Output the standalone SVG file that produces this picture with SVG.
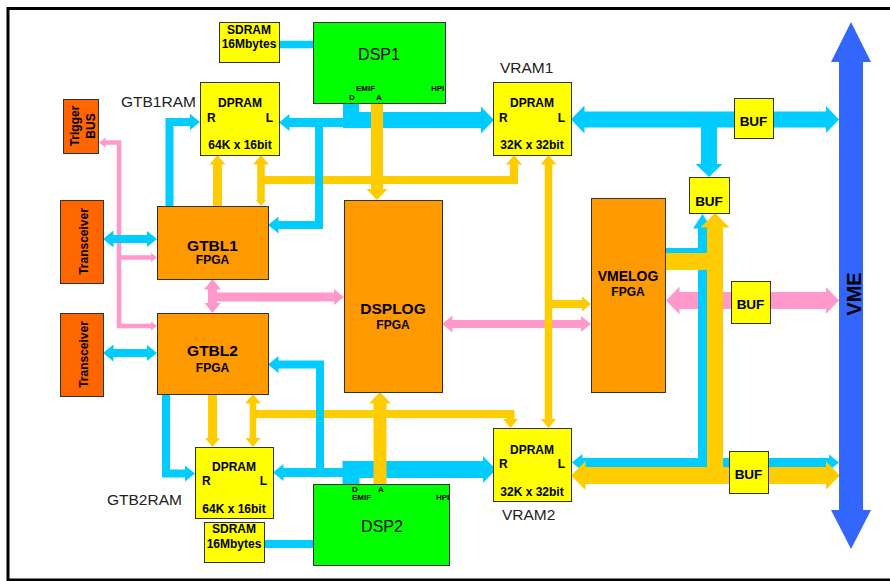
<svg xmlns="http://www.w3.org/2000/svg" width="890" height="581" viewBox="0 0 890 581">
<style>
.box{stroke:#333;stroke-width:1}
.yel{fill:#ffff00}.org{fill:#ff9900}.red{fill:#ff6600}.grn{fill:#00ff00}
.t{font-family:"Liberation Sans",Arial,sans-serif;fill:#000}
.b12{font-weight:bold;font-size:12px}
.b8{font-weight:bold;font-size:8px}
.b13{font-weight:bold;font-size:13.5px}
.n16{font-size:16px}
.b15{font-weight:bold;font-size:15.5px}
.lbl{font-size:15.5px;fill:#222}
.mid{text-anchor:middle}
.end{text-anchor:end}
.c{stroke:#00ccff;fill:none;stroke-linejoin:miter}
.y{stroke:#ffcc00;fill:none;stroke-linejoin:miter}
.p{stroke:#ff99cc;fill:none;stroke-linejoin:miter}
</style>
<defs>
<marker id="cS" markerUnits="userSpaceOnUse" viewBox="-0.5 -8.5 10.5 17" refX="0" refY="0" markerWidth="10.5" markerHeight="17" orient="auto-start-reverse"><path d="M-0.5,-8.5 L10,0 L-0.5,8.5Z" fill="#00ccff"/></marker>
<marker id="cM" markerUnits="userSpaceOnUse" viewBox="-0.5 -9.5 14.5 19" refX="0" refY="0" markerWidth="14.5" markerHeight="19" orient="auto-start-reverse"><path d="M-0.5,-9.5 L14,0 L-0.5,9.5Z" fill="#00ccff"/></marker>
<marker id="cL" markerUnits="userSpaceOnUse" viewBox="-0.5 -14 13.5 28" refX="0" refY="0" markerWidth="13.5" markerHeight="28" orient="auto-start-reverse"><path d="M-0.5,-14 L13,0 L-0.5,14Z" fill="#00ccff"/></marker>
<marker id="yT" markerUnits="userSpaceOnUse" viewBox="-0.5 -5.5 6.5 11" refX="0" refY="0" markerWidth="6.5" markerHeight="11" orient="auto-start-reverse"><path d="M-0.5,-5.5 L6,0 L-0.5,5.5Z" fill="#ffcc00"/></marker>
<marker id="yS" markerUnits="userSpaceOnUse" viewBox="-0.5 -8 9.5 16" refX="0" refY="0" markerWidth="9.5" markerHeight="16" orient="auto-start-reverse"><path d="M-0.5,-8 L9,0 L-0.5,8Z" fill="#ffcc00"/></marker>
<marker id="yM" markerUnits="userSpaceOnUse" viewBox="-0.5 -11 11.5 22" refX="0" refY="0" markerWidth="11.5" markerHeight="22" orient="auto-start-reverse"><path d="M-0.5,-11 L11,0 L-0.5,11Z" fill="#ffcc00"/></marker>
<marker id="yL" markerUnits="userSpaceOnUse" viewBox="-0.5 -14.5 14.5 29" refX="0" refY="0" markerWidth="14.5" markerHeight="29" orient="auto-start-reverse"><path d="M-0.5,-14.5 L14,0 L-0.5,14.5Z" fill="#ffcc00"/></marker>
<marker id="pT" markerUnits="userSpaceOnUse" viewBox="-0.5 -5 6.5 10" refX="0" refY="0" markerWidth="6.5" markerHeight="10" orient="auto-start-reverse"><path d="M-0.5,-5 L6,0 L-0.5,5Z" fill="#ff99cc"/></marker>
<marker id="pS" markerUnits="userSpaceOnUse" viewBox="-0.5 -8.5 10.5 17" refX="0" refY="0" markerWidth="10.5" markerHeight="17" orient="auto-start-reverse"><path d="M-0.5,-8.5 L10,0 L-0.5,8.5Z" fill="#ff99cc"/></marker>
<marker id="pL" markerUnits="userSpaceOnUse" viewBox="-0.5 -14 13.5 28" refX="0" refY="0" markerWidth="13.5" markerHeight="28" orient="auto-start-reverse"><path d="M-0.5,-14 L13,0 L-0.5,14Z" fill="#ff99cc"/></marker>
</defs>
<rect x="0" y="0" width="890" height="581" fill="#fff"/>
<rect x="8" y="8.5" width="886" height="571.5" fill="none" stroke="#000" stroke-width="3"/>

<g id="connectors">
  <!-- pink -->
  <path class="p" stroke-width="4.5" d="M105,142.5 H119 V326 H151" marker-start="url(#pT)" marker-end="url(#pT)"/>
  <path class="p" stroke-width="4.5" d="M119,257.5 H151" marker-end="url(#pT)"/>
  <path class="p" stroke-width="9" d="M212.5,289 V303" marker-start="url(#pS)" marker-end="url(#pS)"/>
  <path class="p" stroke-width="9" d="M212.5,297 H334" marker-end="url(#pS)"/>
  <path class="p" stroke-width="8" d="M452,324 H581" marker-start="url(#pS)" marker-end="url(#pS)"/>
  <path class="p" stroke-width="17" d="M679,300.5 H826" marker-start="url(#pL)" marker-end="url(#pL)"/>
  <!-- yellow under cyan -->
  <path class="y" stroke-width="8" d="M261,180 H514 V164" marker-end="url(#yS)"/>
  <path class="y" stroke-width="8" d="M253,414 H510.5 V419" marker-end="url(#yS)"/>
  <!-- cyan -->
  <path class="c" stroke-width="7.5" d="M279,44.5 H313"/>
  <path class="c" stroke-width="16" d="M351,103 V120 H481" marker-end="url(#cL)"/>
  <path class="c" stroke-width="9" d="M289,122.5 H351" marker-start="url(#cS)"/>
  <path class="c" stroke-width="8" d="M319,122.5 V225 H278" marker-end="url(#cS)"/>
  <path class="c" stroke-width="8" d="M169.5,206 V122 H190" marker-end="url(#cS)"/>
  <path class="c" stroke-width="8" d="M113,239 H147" marker-start="url(#cS)" marker-end="url(#cS)"/>
  <path class="c" stroke-width="8" d="M113,353 H147" marker-start="url(#cS)" marker-end="url(#cS)"/>
  <path class="c" stroke-width="8" d="M166,394 V473.5 H185" marker-end="url(#cS)"/>
  <path class="c" stroke-width="17" d="M351,484 V469.5 H483" marker-end="url(#cL)"/>
  <path class="c" stroke-width="9" d="M283,472.5 H351" marker-start="url(#cS)"/>
  <path class="c" stroke-width="8" d="M320,472.5 V364.5 H278" marker-end="url(#cS)"/>
  <path class="c" stroke-width="8" d="M264,544 H313"/>
  <path class="c" stroke-width="16" d="M584,119.5 H826" marker-start="url(#cL)" marker-end="url(#cL)"/>
  <path class="c" stroke-width="16" d="M709,119.5 V164" marker-end="url(#cL)"/>
  <path class="c" stroke-width="9" d="M582,462.5 H829" marker-start="url(#cS)" marker-end="url(#cS)"/>
  <path class="c" stroke-width="9" d="M702.5,467 V228" marker-end="url(#cM)"/>
  <path class="c" stroke-width="9" d="M665,252.5 H707"/>
  <!-- yellow over -->
  <path class="y" stroke-width="12" d="M377,103 V189" marker-end="url(#yM)"/>
  <path class="y" stroke-width="9" d="M217.5,206 V164" marker-end="url(#yS)"/>
  <path class="y" stroke-width="7.5" d="M261,200 V164" marker-start="url(#yT)" marker-end="url(#yS)"/>
  <path class="y" stroke-width="7.5" d="M548.5,164 V419" marker-start="url(#yS)" marker-end="url(#yS)"/>
  <path class="y" stroke-width="8" d="M548.5,304 H582" marker-end="url(#yS)"/>
  <path class="y" stroke-width="9" d="M212.5,394 V438" marker-end="url(#yS)"/>
  <path class="y" stroke-width="6.5" d="M253,403 V438" marker-start="url(#yS)" marker-end="url(#yS)"/>
  <path class="y" stroke-width="13" d="M380,484 V403" marker-end="url(#yM)"/>
  <path class="y" stroke-width="17" d="M665,261.5 H723"/>
  <path class="y" stroke-width="16" d="M715,484 V227" marker-end="url(#yL)"/>
  <path class="y" stroke-width="17" d="M585,475.5 H826" marker-start="url(#yL)" marker-end="url(#yL)"/>
</g>

<g id="vme">
  <polygon points="851,22 871,62 863,62 863,510 871,510 851,549 831,510 839,510 839,62 831,62" fill="#3366ff"/>
  <text class="t mid" font-weight="bold" font-size="20" transform="translate(861,294) rotate(-90)">VME</text>
</g>

<g id="sdram1">
  <rect class="box yel" x="219.5" y="22.5" width="60" height="40"/>
  <text class="t b12 mid" x="249" y="34">SDRAM</text>
  <text class="t b12 mid" x="249" y="48">16Mbytes</text>
</g>
<g id="dsp1">
  <rect class="box grn" x="313.5" y="22.5" width="132" height="81"/>
  <text class="t n16 mid" x="379" y="60">DSP1</text>
  <text class="t b8" x="356" y="91">EMIF</text>
  <text class="t b8" x="349" y="100">D</text>
  <text class="t b8" x="376" y="100">A</text>
  <text class="t b8" x="431" y="91">HPI</text>
</g>
<g id="gtb1ram">
  <rect class="box yel" x="200.5" y="82.5" width="79" height="73"/>
  <text class="t b12 mid" x="240" y="107">DPRAM</text>
  <text class="t b12" x="207" y="122">R</text>
  <text class="t b12 end" x="273" y="122">L</text>
  <text class="t b12 mid" x="240" y="149">64K x 16bit</text>
  <text class="t lbl" x="121" y="107">GTB1RAM</text>
</g>
<g id="vram1">
  <rect class="box yel" x="493.5" y="82.5" width="78" height="73"/>
  <text class="t b12 mid" x="532" y="107">DPRAM</text>
  <text class="t b12" x="499" y="122">R</text>
  <text class="t b12 end" x="565" y="122">L</text>
  <text class="t b12 mid" x="532" y="149">32K x 32bit</text>
  <text class="t lbl" x="500" y="73">VRAM1</text>
</g>
<g id="trigger">
  <rect class="box red" x="63.5" y="99.5" width="35" height="54"/>
  <text class="t b12 mid" transform="translate(79,126) rotate(-90)">Trigger</text>
  <text class="t b12 mid" transform="translate(95,126) rotate(-90)">BUS</text>
</g>
<g id="transceiver1">
  <rect class="box red" x="60.5" y="200.5" width="43" height="83"/>
  <text class="t b12 mid" transform="translate(88,241.5) rotate(-90)">Transceiver</text>
</g>
<g id="transceiver2">
  <rect class="box red" x="60.5" y="313.5" width="43" height="83"/>
  <text class="t b12 mid" transform="translate(88,354.5) rotate(-90)">Transceiver</text>
</g>
<g id="gtbl1">
  <rect class="box org" x="157.5" y="206.5" width="111" height="73"/>
  <text class="t b15 mid" x="212.5" y="251">GTBL1</text>
  <text class="t b12 mid" x="212.5" y="264">FPGA</text>
</g>
<g id="gtbl2">
  <rect class="box org" x="157.5" y="313.5" width="111" height="81"/>
  <text class="t b15 mid" x="212.5" y="356">GTBL2</text>
  <text class="t b12 mid" x="212.5" y="372">FPGA</text>
</g>
<g id="dsplog">
  <rect class="box org" x="344.5" y="200.5" width="98" height="192"/>
  <text class="t b15 mid" x="393" y="314">DSPLOG</text>
  <text class="t b12 mid" x="393" y="329">FPGA</text>
</g>
<g id="vmelog">
  <rect class="box org" x="591.5" y="198.5" width="74" height="194"/>
  <text class="t mid" font-weight="bold" font-size="14" x="628" y="281">VMELOG</text>
  <text class="t b12 mid" x="628" y="296">FPGA</text>
</g>
<g id="buf1">
  <rect class="box yel" x="734.5" y="98.5" width="39" height="40"/>
  <text class="t b13 mid" x="753.5" y="126">BUF</text>
</g>
<g id="buf2">
  <rect class="box yel" x="689.5" y="177.5" width="40" height="36"/>
  <text class="t b13 mid" x="709" y="206">BUF</text>
</g>
<g id="buf3">
  <rect class="box yel" x="731.5" y="281.5" width="39" height="42"/>
  <text class="t b13 mid" x="750.5" y="309">BUF</text>
</g>
<g id="buf4">
  <rect class="box yel" x="729.5" y="451.5" width="39" height="42"/>
  <text class="t b13 mid" x="748.5" y="479">BUF</text>
</g>
<g id="vram2">
  <rect class="box yel" x="493.5" y="428.5" width="78" height="73"/>
  <text class="t b12 mid" x="532" y="454">DPRAM</text>
  <text class="t b12" x="499" y="468">R</text>
  <text class="t b12 end" x="565" y="468">L</text>
  <text class="t b12 mid" x="532" y="496">32K x 32bit</text>
  <text class="t lbl" x="502" y="520">VRAM2</text>
</g>
<g id="dsp2">
  <rect class="box grn" x="313.5" y="484.5" width="136" height="81"/>
  <text class="t n16 mid" x="382" y="532">DSP2</text>
  <text class="t b8" x="352" y="492">D</text>
  <text class="t b8" x="378" y="492">A</text>
  <text class="t b8" x="352" y="500">EMIF</text>
  <text class="t b8" x="436" y="500">HPI</text>
</g>
<g id="gtb2ram">
  <rect class="box yel" x="195.5" y="447.5" width="78" height="71"/>
  <text class="t b12 mid" x="234" y="471">DPRAM</text>
  <text class="t b12" x="202" y="485">R</text>
  <text class="t b12 end" x="267" y="485">L</text>
  <text class="t b12 mid" x="234" y="513">64K x 16bit</text>
  <text class="t lbl" x="107" y="505">GTB2RAM</text>
</g>
<g id="sdram2">
  <rect class="box yel" x="204.5" y="522.5" width="60" height="40"/>
  <text class="t b12 mid" x="234" y="533">SDRAM</text>
  <text class="t b12 mid" x="234" y="548">16Mbytes</text>
</g>
</svg>
